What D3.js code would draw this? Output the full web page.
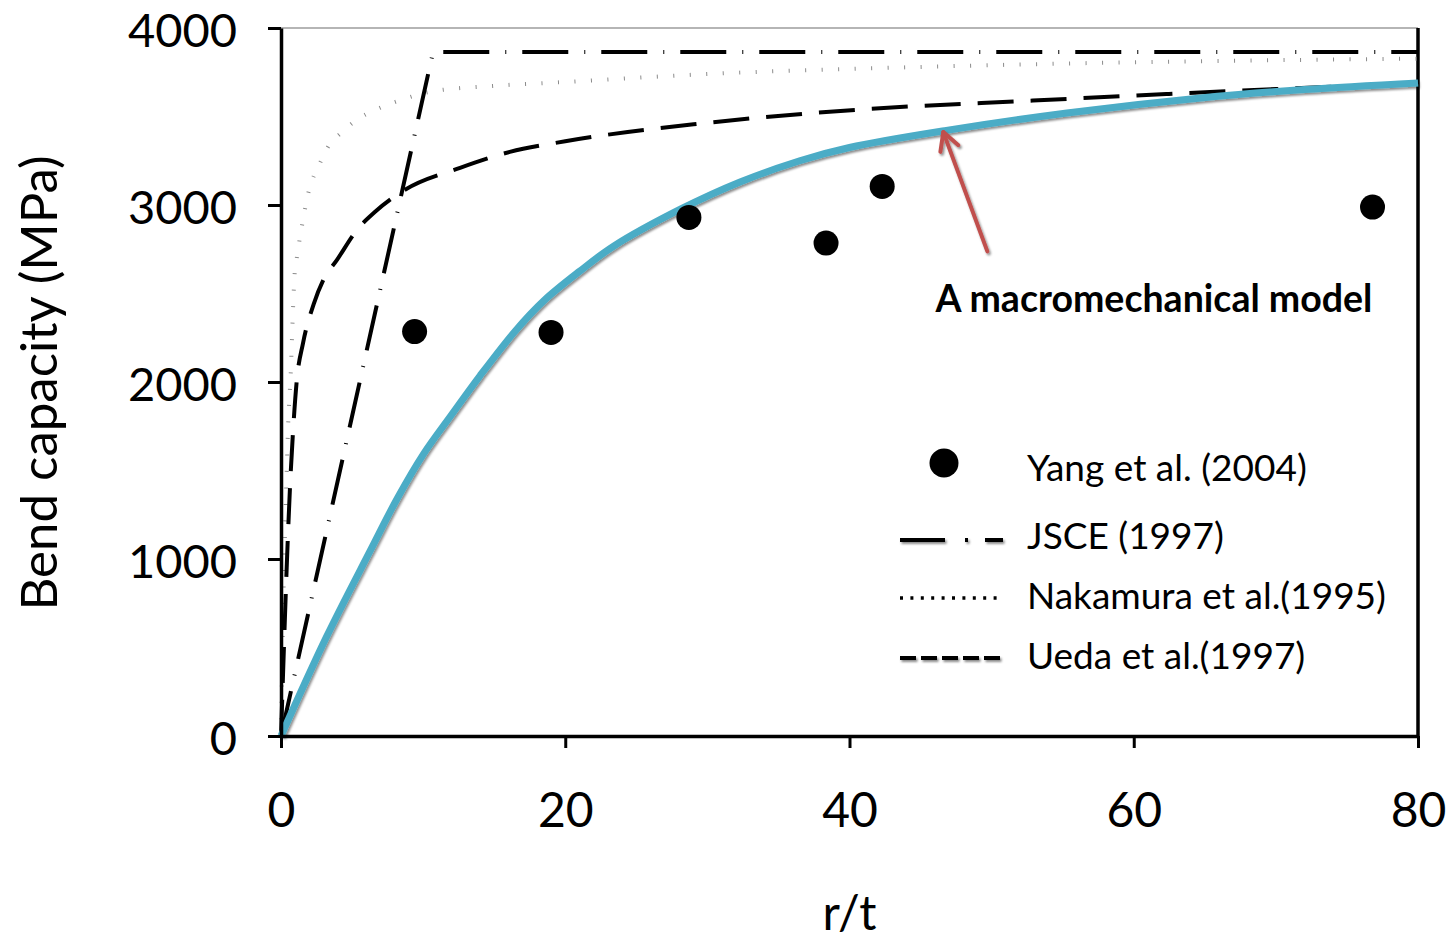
<!DOCTYPE html>
<html>
<head>
<meta charset="utf-8">
<script src="https://cdn.jsdelivr.net/npm/d3@7"></script>
<style>
  body { margin: 0; background: #fff; }
  text { font-family: Lato, "Open Sans", sans-serif; fill: #000; }
</style>
</head>
<body>
<svg id="chart"></svg>
<script>
var width = 1453;
var height = 939;
var margin = {top: 28, right: 35, bottom: 203, left: 281};

// x ticks / y ticks
var xTicks = [0, 20, 40, 60, 80];
var yTicks = [0, 1000, 2000, 3000, 4000];

// Yang et al. (2004) test points  [r/t, MPa]
var yangData = [[9.4, 2285], [19.0, 2280], [28.7, 2930], [38.35, 2785], [42.3, 3105], [76.8, 2988]];

// JSCE (1997)
var jsceData = [[0, 0], [10.7, 3865], [80, 3865]];

// Nakamura et al. (1995)
var nakamuraData = [[0, 0], [0.1, 500], [0.2, 900], [0.35, 1350], [0.5, 1750], [0.7, 2080], [0.84, 2400],
    [0.95, 2600], [1.13, 2710], [1.48, 2885], [1.9, 3060], [2.74, 3236], [3.3, 3327], [4.29, 3412],
    [5.4, 3485], [6.6, 3536], [8.9, 3605], [10.5, 3640], [14.8, 3672], [20, 3695], [30, 3740],
    [45, 3780], [57.6, 3803], [80, 3827]];

// Ueda et al. (1997)
var uedaData = [[0, 0], [0.16, 390], [0.4, 950], [0.63, 1400], [0.87, 1750], [1.1, 2000], [1.55, 2220],
    [2.3, 2440], [3.0, 2580], [3.94, 2690], [5.35, 2860], [6.6, 2960], [8.6, 3080], [12.6, 3210],
    [16.1, 3300], [20, 3360], [29.5, 3460], [41.2, 3542], [52.9, 3590], [62.3, 3627], [70, 3655], [80, 3685]];

// macromechanical model
var modelData = [[0, 0], [3.2, 560], [6.3, 1050], [8.2, 1345], [10, 1590], [12, 1815], [14, 2035],
    [16.5, 2290], [18.5, 2460], [21, 2625], [23.4, 2767], [28.1, 2976], [32.3, 3130], [36.5, 3250],
    [40, 3325], [46.7, 3420], [55.3, 3520], [64.7, 3605], [72, 3652], [80, 3689]];

// annotation arrow: tail, head
var arrowData = [[49.7, 2738], [46.6, 3412]];
var annotation = "A macromechanical model";

var legendItems = ["Yang et al. (2004)", "JSCE (1997)", "Nakamura et al.(1995)", "Ueda et al.(1997)"];

var svg = d3.select("#chart").attr("width", width).attr("height", height);
svg.append("rect").attr("width", width).attr("height", height).attr("fill", "#fff");

var defs = svg.append("defs");
var shadow = defs.append("filter").attr("id", "shadow")
    .attr("filterUnits", "userSpaceOnUse")
    .attr("x", 0).attr("y", 0).attr("width", width).attr("height", height);
shadow.append("feDropShadow").attr("dx", 1.5).attr("dy", 2).attr("stdDeviation", 1.3)
    .attr("flood-color", "#000").attr("flood-opacity", 0.45);

var x = d3.scaleLinear().domain([0, 80]).range([margin.left, width - margin.right]);
var y = d3.scaleLinear().domain([0, 4000]).range([height - margin.bottom, margin.top]);

// frame: gray top, black right
svg.append("line").attr("x1", x(0)).attr("x2", x(80)).attr("y1", y(4000)).attr("y2", y(4000))
    .attr("stroke", "#b5b5b5").attr("stroke-width", 2);
svg.append("line").attr("x1", x(80)).attr("x2", x(80)).attr("y1", y(4000)).attr("y2", y(0))
    .attr("stroke", "#000").attr("stroke-width", 3.5);

var line = d3.line().x(d => x(d[0])).y(d => y(d[1]));
var smooth = d3.line().x(d => x(d[0])).y(d => y(d[1])).curve(d3.curveMonotoneX);
var smoothModel = d3.line().x(d => x(d[0])).y(d => y(d[1])).curve(d3.curveCatmullRom.alpha(0.5));

// Nakamura: fine gray dots
svg.append("path").datum(nakamuraData).attr("d", smooth)
    .attr("fill", "none").attr("stroke", "#8a8a8a").attr("stroke-width", 4)
    .attr("stroke-dasharray", "1,15.5");

// JSCE: long dash - dot
svg.append("path").datum(jsceData).attr("d", line)
    .attr("fill", "none").attr("stroke", "#000").attr("stroke-width", 4)
    .attr("stroke-dasharray", "46,16,1,16");

// Ueda: dashed
svg.append("path").datum(uedaData).attr("d", smooth)
    .attr("fill", "none").attr("stroke", "#000").attr("stroke-width", 4)
    .attr("stroke-dasharray", "36,17");

// model: thin black under, blue on top
svg.append("path").datum(modelData).attr("d", smoothModel)
    .attr("fill", "none").attr("stroke", "#000").attr("stroke-width", 2)
    .attr("transform", "translate(1,1.5)");
svg.append("path").datum(modelData).attr("d", smoothModel)
    .attr("fill", "none").attr("stroke", "#4bacc6").attr("stroke-width", 7)
    .attr("filter", "url(#shadow)");

// Yang points
svg.selectAll(".pt").data(yangData).enter().append("circle")
    .attr("class", "pt")
    .attr("cx", d => x(d[0])).attr("cy", d => y(d[1])).attr("r", 12.5)
    .attr("fill", "#000");

// axes
var yAxis = d3.axisLeft(y).tickValues(yTicks).tickFormat(d3.format("d"))
    .tickSize(13).tickSizeOuter(0).tickPadding(31);
var xAxis = d3.axisBottom(x).tickValues(xTicks).tickFormat(d3.format("d"))
    .tickSize(12).tickSizeOuter(0).tickPadding(45);

var gy = svg.append("g").attr("transform", `translate(${x(0)},0)`).call(yAxis);
var gx = svg.append("g").attr("transform", `translate(0,${y(0)})`).call(xAxis);
[gx, gy].forEach(g => {
    g.select(".domain").attr("stroke", "#000").attr("stroke-width", 3.5);
    g.selectAll(".tick line").attr("stroke", "#000").attr("stroke-width", 3);
    g.selectAll(".tick text").attr("font-size", 48).attr("font-family", "Lato, sans-serif").attr("fill", "#000");
});
// keep the top label inside the page
gy.selectAll(".tick text").attr("font-size", 47).attr("dy", "0.4em");

// axis titles
svg.append("text").attr("x", x(40)).attr("y", 930)
    .attr("text-anchor", "middle").attr("font-size", 48).text("r/t");
svg.append("text").attr("transform", "translate(57,383) rotate(-90)")
    .attr("text-anchor", "middle").attr("font-size", 51).text("Bend capacity (MPa)");

// annotation arrow
var ax1 = x(arrowData[0][0]), ay1 = y(arrowData[0][1]);
var ax2 = x(arrowData[1][0]), ay2 = y(arrowData[1][1]);
var ang = Math.atan2(ay1 - ay2, ax1 - ax2);
var headLen = 20, spread = 0.5;
var arrowG = svg.append("g").attr("filter", "url(#shadow)")
    .attr("stroke", "#c0504d").attr("stroke-width", 4).attr("fill", "none")
    .attr("stroke-linecap", "round");
arrowG.append("line").attr("x1", ax1).attr("y1", ay1).attr("x2", ax2).attr("y2", ay2);
arrowG.append("path").attr("d",
    `M${ax2 + headLen * Math.cos(ang - spread)},${ay2 + headLen * Math.sin(ang - spread)}` +
    `L${ax2},${ay2}` +
    `L${ax2 + headLen * Math.cos(ang + spread)},${ay2 + headLen * Math.sin(ang + spread)}`)
    .attr("stroke-linejoin", "round");

svg.append("text").attr("x", 1154).attr("y", 312).attr("text-anchor", "middle")
    .attr("font-size", 37.5).attr("font-weight", "bold").text(annotation);

// legend
var legendRows = [468, 536, 596, 656];
var lg = svg.append("g");
legendItems.forEach((name, i) => {
    lg.append("text").attr("x", 1027).attr("y", legendRows[i]).attr("dy", "0.36em")
        .attr("font-size", 37).text(name);
});
lg.append("circle").attr("cx", 944).attr("cy", legendRows[0] - 5).attr("r", 14.5).attr("fill", "#000");
lg.append("line").attr("x1", 900).attr("x2", 1003).attr("y1", legendRows[1] + 4).attr("y2", legendRows[1] + 4)
    .attr("stroke", "#000").attr("stroke-width", 4).attr("stroke-dasharray", "45,20,3,17")
    .attr("filter", "url(#shadow)");
lg.append("line").attr("x1", 900).attr("x2", 1003).attr("y1", legendRows[2] + 2).attr("y2", legendRows[2] + 2)
    .attr("stroke", "#000").attr("stroke-width", 3.5).attr("stroke-dasharray", "3,7.4");
lg.append("line").attr("x1", 900).attr("x2", 1003).attr("y1", legendRows[3] + 2).attr("y2", legendRows[3] + 2)
    .attr("stroke", "#000").attr("stroke-width", 4).attr("stroke-dasharray", "16,5")
    .attr("filter", "url(#shadow)");
</script>
</body>
</html>
